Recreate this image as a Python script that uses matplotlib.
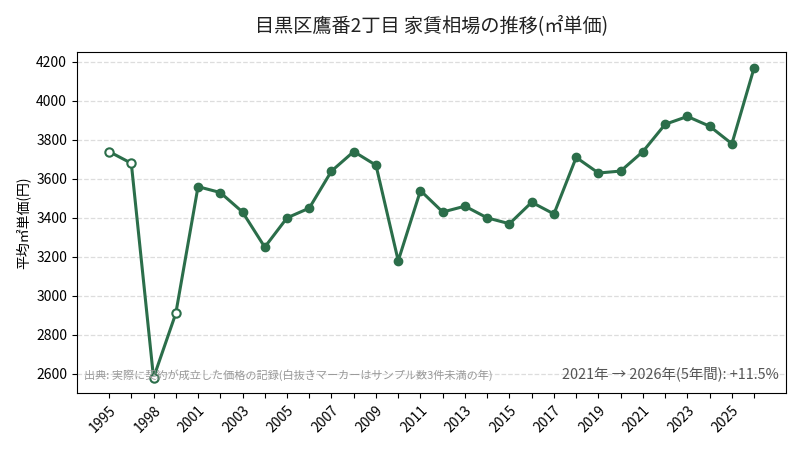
import matplotlib
matplotlib.use("Agg")
import matplotlib.pyplot as plt
import numpy as np

plt.rcParams['font.family'] = ['Noto Sans CJK JP', 'DejaVu Sans']

years = [1995, 1997, 1998, 2000, 2001, 2002, 2003, 2004, 2005, 2006, 2007, 2008,
         2009, 2010, 2011, 2012, 2013, 2014, 2015, 2016, 2017, 2018, 2019, 2020,
         2021, 2022, 2023, 2024, 2025, 2026]
values = [3740, 3680, 2580, 2910, 3560, 3530, 3430, 3250, 3400, 3450, 3640, 3740,
          3670, 3180, 3540, 3430, 3460, 3400, 3370, 3480, 3420, 3710, 3630, 3640,
          3740, 3880, 3920, 3870, 3780, 4170]
low_sample = [True, True, True, True] + [False] * 26

title = "目黒区鷹番2丁目 家賃相場の推移(㎡単価)"
ylabel = "平均㎡単価(円)"
source = "出典: 実際に契約が成立した価格の記録(白抜きマーカーはサンプル数3件未満の年)"
note = "2021年 → 2026年(5年間): +11.5%"

color = "#2b6e4a"

fig = plt.figure(figsize=(8, 4.5), dpi=100)
ax = fig.add_axes([0.096, 0.126, 0.887, 0.758])

x = np.arange(len(years))
ax.plot(x, values, color=color, linewidth=2.2, zorder=2)
filled = [i for i in x if not low_sample[i]]
hollow = [i for i in x if low_sample[i]]
ax.plot(filled, [values[i] for i in filled], linestyle='none', marker='o',
        markersize=6, color=color, zorder=3)
ax.plot(hollow, [values[i] for i in hollow], linestyle='none', marker='o',
        markersize=6, markerfacecolor='white', markeredgecolor=color,
        markeredgewidth=1.5, zorder=3)

ax.set_xticks(x)
ax.set_xticklabels([str(y) if i % 2 == 0 else "" for i, y in enumerate(years)],
                   rotation=45, ha='right', rotation_mode='anchor', fontsize=10)
ax.set_yticks([2600, 2800, 3000, 3200, 3400, 3600, 3800, 4000, 4200])
ax.tick_params(axis='y', labelsize=10)
ax.grid(axis='y', linestyle='--', color='#dddddd', linewidth=0.9)
ax.set_axisbelow(True)

ax.set_ylabel(ylabel, fontsize=10)
ax.set_title(title, fontsize=13.8, pad=15, color='#222222')

ax.text(0.01, 0.035, source, transform=ax.transAxes, fontsize=8,
        color='#999999', ha='left', va='bottom')
ax.text(0.99, 0.035, note, transform=ax.transAxes, fontsize=10.4,
        color='#555555', ha='right', va='bottom')

fig.savefig("out.png", dpi=100)
